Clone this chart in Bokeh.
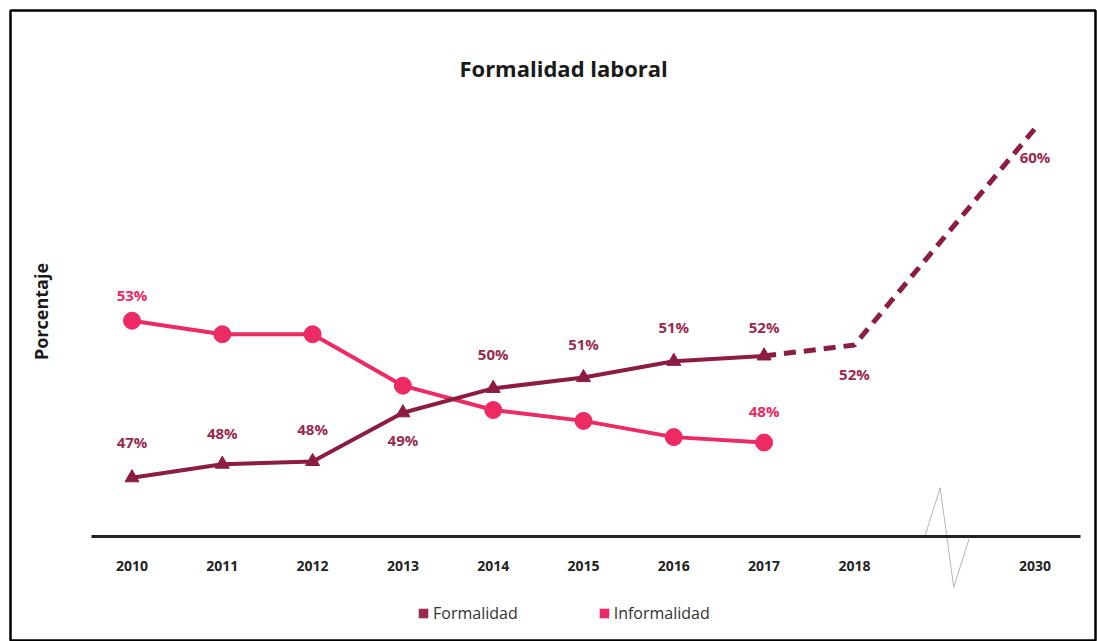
import math
from bokeh.plotting import figure
from bokeh.models import (LinearAxis, FixedTicker, Range1d, Legend, LegendItem,
                          ColumnDataSource, Label)
from bokeh.core.properties import value
from bokeh.embed import file_html
from bokeh.resources import INLINE

# ---------------- data ----------------
years = ["2010", "2011", "2012", "2013", "2014", "2015", "2016", "2017", "2018", "2030"]
slots = [0, 1, 2, 3, 4, 5, 6, 7, 8, 10]          # 2030 sits after an axis break
formalidad = [47.1, 47.6, 47.7, 49.5, 50.4, 50.8, 51.4, 51.6, 52.0, 60.0]
formalidad_labels = ["47%", "48%", "48%", "49%", "50%", "51%", "51%", "52%", "52%", "60%"]
informalidad = [52.9, 52.4, 52.4, 50.5, 49.6, 49.2, 48.6, 48.4]
informalidad_labels = ["53%", "", "", "", "", "", "", "48%"]
n_observed = 8                                      # 2010-2017 observed, rest projected

# axis-break marker (zig-zag) between 2018 and 2030
break_x = [8.78, 8.95, 9.10, 9.27]
break_y = [44.93, 46.73, 43.05, 44.84]
axis_level = 44.93

# ---------------- styles ----------------
FORM_C = "#8c1c40"
FORM_TXT = "#982b4f"
INF_C = "#ec2a63"
FONT = value("Open Sans")

W, H = 1097, 641
p = figure(width=W, height=H, output_backend="svg", toolbar_location=None,
           x_axis_type=None, y_axis_type=None,
           x_range=Range1d(-1.3455, 10.670), y_range=Range1d(41.05, 64.36),
           min_border_left=10, min_border_right=2, min_border_top=10, min_border_bottom=0,
           background_fill_color="white", border_fill_color="white")
p.outline_line_color = "black"
p.outline_line_width = 2.5

# x axis at a fixed level inside the frame
xaxis = LinearAxis(fixed_location=axis_level)
xaxis.ticker = FixedTicker(ticks=slots)
xaxis.major_label_overrides = {s: y for s, y in zip(slots, years)}
xaxis.bounds = (-0.45, 10.5)
xaxis.axis_line_color = "#222222"
xaxis.axis_line_width = 3
xaxis.major_tick_line_color = None
xaxis.minor_tick_line_color = None
xaxis.major_tick_out = 0
xaxis.major_label_standoff = 25
xaxis.major_label_text_font = "Open Sans"
xaxis.major_label_text_font_style = "bold"
xaxis.major_label_text_font_size = "14px"
xaxis.major_label_text_color = "#222222"
p.add_layout(xaxis, "below")

# axis break
p.line(break_x, break_y, line_color="#b5b5b5", line_width=1)

# informalidad
inf_src = ColumnDataSource(dict(x=slots[:n_observed], y=informalidad, lab=informalidad_labels))
p.line("x", "y", source=inf_src, line_color=INF_C, line_width=4)
p.scatter("x", "y", source=inf_src, marker="circle", size=17, fill_color=INF_C, line_color=INF_C)

# formalidad observed
form_src = ColumnDataSource(dict(x=slots[:n_observed], y=formalidad[:n_observed]))
p.line("x", "y", source=form_src, line_color=FORM_C, line_width=4)
p.scatter("x", "y", source=form_src, marker="triangle", size=14, fill_color=FORM_C, line_color=FORM_C)
# formalidad projected
proj_src = ColumnDataSource(dict(x=slots[n_observed - 1:], y=formalidad[n_observed - 1:]))
p.line("x", "y", source=proj_src, line_color=FORM_C, line_width=5, line_dash="12 8")

# data labels
form_off = [-36, -31, -32, 27, -34, -34, -34, -29, 29, 28]
p.text(x=slots, y=formalidad, text=formalidad_labels, y_offset=form_off,
       text_font=FONT, text_font_style="bold", text_font_size="15px",
       text_color=FORM_TXT, text_align="center", text_baseline="middle")
inf_off = [-26, 0, 0, 0, 0, 0, 0, -32]
p.text(x=slots[:n_observed], y=informalidad, text=informalidad_labels, y_offset=inf_off,
       text_font=FONT, text_font_style="bold", text_font_size="15px",
       text_color=INF_C, text_align="center", text_baseline="middle")

# title and y label
p.add_layout(Label(x=4.78, y=62.22, text="Formalidad laboral", text_font="Open Sans",
                   text_font_style="bold", text_font_size="22px", text_color="#1a1a1a",
                   text_align="center", text_baseline="middle"))
p.add_layout(Label(x=-1.013, y=53.24, text="Porcentaje", angle=math.pi / 2,
                   text_font="Open Sans", text_font_style="bold", text_font_size="18px",
                   text_color="#1a1a1a", text_align="center", text_baseline="middle"))

# legend (square swatches)
nan = float("nan")
q_form = p.quad(left=[nan], right=[nan], top=[nan], bottom=[nan], fill_color="#9b2a50", line_color=None)
q_inf = p.quad(left=[nan], right=[nan], top=[nan], bottom=[nan], fill_color="#ee2a66", line_color=None)
legend = Legend(items=[LegendItem(label="Formalidad", renderers=[q_form]),
                       LegendItem(label="Informalidad", renderers=[q_inf])],
                location=(407, 17), orientation="horizontal",
                glyph_width=12, glyph_height=12, label_standoff=4, spacing=80,
                padding=0, margin=0, border_line_color=None, background_fill_alpha=0,
                label_text_font="Open Sans", label_text_font_size="16px",
                label_text_color="#333333", label_height=20)
p.add_layout(legend, "center")

open("out.html", "w").write(file_html(p, INLINE))
